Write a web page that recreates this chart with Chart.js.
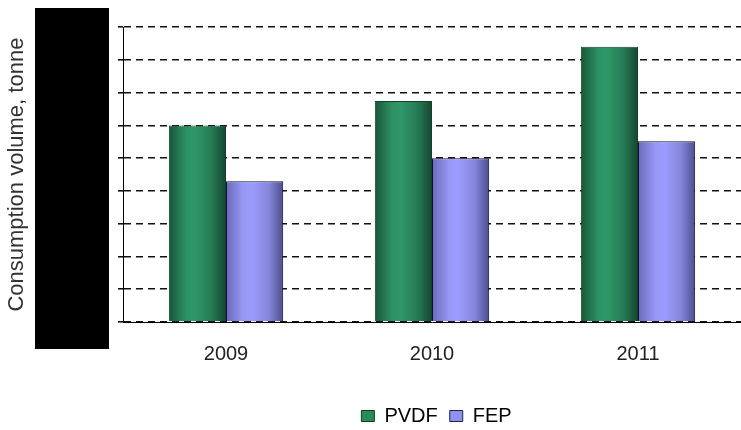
<!DOCTYPE html>
<html>
<head>
<meta charset="utf-8">
<script src="https://cdn.jsdelivr.net/npm/chart.js@4"></script>
<style>
  html, body { margin: 0; padding: 0; background: #fff; }
  #wrap { width: 741px; height: 430px; }
</style>
</head>
<body>
<div id="wrap"><canvas id="chart"></canvas></div>
<script>
const years = ['2009', '2010', '2011'];
const pvdf = [6000, 6750, 8400];
const fep = [4300, 5000, 5520];
const yMax = 9000;
const yStep = 1000;

const catPct = 0.555;
const font = 'Liberation Sans, Arial, sans-serif';

// horizontal gradient across each bar so it looks like a cylinder
function barFill(stops, flat) {
  return function(context) {
    if (context.type !== 'data') return flat;
    const chart = context.chart;
    const x = chart.scales.x;
    if (!chart.chartArea || !x) return flat;
    const catW = chart.chartArea.width / years.length;
    const w = catW * catPct / 2;
    const center = x.getPixelForValue(context.dataIndex);
    const left = center - w + context.datasetIndex * w;
    const g = chart.ctx.createLinearGradient(left, 0, left + w, 0);
    stops.forEach(s => g.addColorStop(s[0], s[1]));
    return g;
  };
}

const greenStops = [[0, '#1a5538'], [0.3, '#2c9163'], [0.45, '#2f9868'], [0.75, '#257a54'], [1, '#164630']];
const blueStops = [[0, '#6a6ab8'], [0.3, '#9797f5'], [0.45, '#9c9cff'], [0.75, '#8585dc'], [1, '#4e4e8e']];

// the y tick labels are covered by a black block in the original
const blackBox = {
  id: 'blackBox',
  afterLayout(chart) {
    // nudge legend right/down like the original
    const lg = chart.legend;
    lg.left += 66; lg.right += 66;
    lg.top += 6; lg.bottom += 6;
  },
  afterDraw(chart) {
    const c = chart.ctx;
    c.save();
    c.fillStyle = '#000';
    c.fillRect(35, 8, 74, 341);
    c.restore();
  }
};

new Chart(document.getElementById('chart'), {
  type: 'bar',
  data: {
    labels: years,
    datasets: [
      {
        label: 'PVDF',
        data: pvdf,
        backgroundColor: barFill(greenStops, '#2a8a5e'),
        borderColor: '#143f2b',
        borderWidth: 1
      },
      {
        label: 'FEP',
        data: fep,
        backgroundColor: barFill(blueStops, '#9090f0'),
        borderColor: '#111133',
        borderWidth: 1
      }
    ]
  },
  options: {
    responsive: true,
    maintainAspectRatio: false,
    animation: false,
    categoryPercentage: catPct,
    barPercentage: 1,
    layout: { padding: { top: 27, right: 0, left: 0, bottom: 0 } },
    plugins: {
      tooltip: { enabled: false },
      legend: {
        position: 'bottom',
        labels: {
          boxWidth: 13,
          boxHeight: 11,
          padding: 12,
          color: '#222',
          font: { family: font, size: 20 },
          generateLabels: () => [
            { text: 'PVDF', fillStyle: '#2a8a5e', strokeStyle: '#143f2b', lineWidth: 1, datasetIndex: 0 },
            { text: 'FEP', fillStyle: '#9090f0', strokeStyle: '#222244', lineWidth: 1, datasetIndex: 1 }
          ]
        }
      }
    },
    scales: {
      x: {
        afterFit(scale) { scale.height = 66; },
        grid: { display: false },
        border: { display: true, color: '#000', width: 1 },
        ticks: {
          color: '#222',
          padding: 12,
          font: { family: font, size: 20 }
        }
      },
      y: {
        min: 0,
        max: yMax,
        afterFit(scale) { scale.width = 123; },
        grid: {
          color: '#111',
          lineWidth: 1.6,
          tickLength: 5,
          drawTicks: true
        },
        border: { display: true, color: '#000', width: 1, dash: [7, 5] },
        ticks: {
          stepSize: yStep,
          color: '#000',
          padding: 20,
          font: { family: font, size: 12 }
        },
        title: {
          display: true,
          text: 'Consumption volume, tonne',
          color: '#333',
          padding: { top: 4, bottom: 0 },
          font: { family: font, size: 22 }
        }
      }
    }
  },
  plugins: [blackBox]
});
</script>
</body>
</html>
